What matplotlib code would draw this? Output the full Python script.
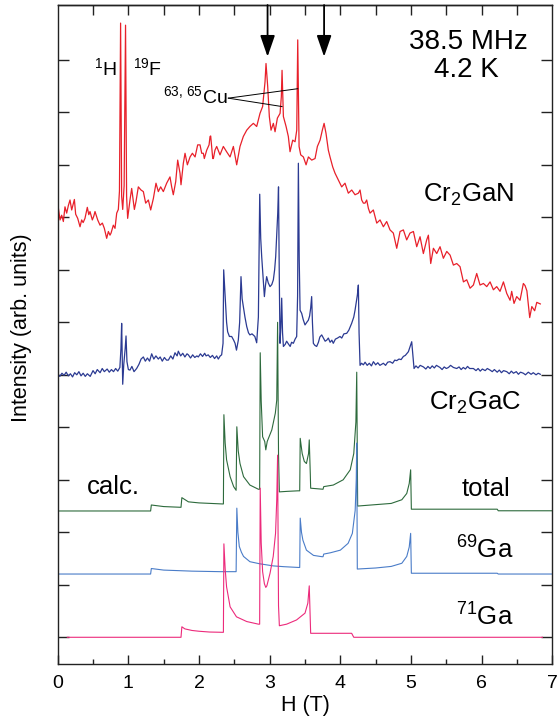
import numpy as np
import matplotlib
matplotlib.use('Agg')
import matplotlib.pyplot as plt

plt.rcParams['font.family'] = ['Liberation Sans', 'DejaVu Sans']
plt.rcParams['mathtext.fontset'] = 'custom'
plt.rcParams['mathtext.rm'] = 'Liberation Sans'
plt.rcParams['mathtext.it'] = 'Liberation Sans:italic'

# values: (H in T, intensity in tick units of the stacked plot)
CR2GAN = [
    (0.00, 8.10), (0.01, 8.17), (0.033, 7.95), (0.056, 8.04), (0.08, 7.92), (0.103, 8.20),
    (0.127, 8.08), (0.15, 8.22), (0.174, 8.33), (0.198, 8.14), (0.236, 8.34), (0.254, 8.06),
    (0.283, 7.98), (0.316, 7.82), (0.339, 7.95), (0.36, 7.90), (0.386, 7.98), (0.419, 8.19),
    (0.44, 8.05), (0.457, 8.11), (0.49, 7.95), (0.51, 8.02), (0.528, 8.11), (0.566, 7.95),
    (0.599, 7.85), (0.632, 7.89), (0.66, 7.79), (0.693, 7.60), (0.717, 7.73), (0.74, 7.66),
    (0.755, 7.70), (0.787, 7.85), (0.811, 7.79), (0.835, 8.08), (0.858, 8.15), (0.874, 8.50),
    (0.89, 11.70), (0.905, 8.40), (0.92, 8.15), (0.94, 8.60), (0.96, 11.66), (0.975, 8.40),
    (0.99, 7.98), (1.023, 8.33), (1.047, 8.55), (1.085, 8.15), (1.108, 8.30), (1.141, 8.58),
    (1.179, 8.52), (1.212, 8.49), (1.245, 8.27), (1.283, 8.33), (1.316, 8.14), (1.354, 8.36),
    (1.391, 8.65), (1.424, 8.49), (1.457, 8.58), (1.495, 8.49), (1.542, 8.65), (1.589, 8.77),
    (1.613, 8.58), (1.636, 8.43), (1.67, 8.68), (1.698, 9.09), (1.731, 8.84), (1.745, 8.62),
    (1.778, 9.03), (1.802, 9.22), (1.835, 9.00), (1.873, 9.15), (1.906, 9.22), (1.944, 9.15),
    (1.981, 9.38), (2.014, 9.38), (2.038, 9.22), (2.061, 9.22), (2.075, 9.12), (2.109, 9.28),
    (2.142, 9.38), (2.156, 9.54), (2.165, 9.55), (2.194, 9.12), (2.203, 9.12), (2.226, 9.28),
    (2.25, 9.35), (2.297, 9.19), (2.344, 9.35), (2.39, 9.25), (2.439, 9.15), (2.486, 9.35),
    (2.533, 9.00), (2.58, 9.35), (2.627, 9.54), (2.675, 9.66), (2.72, 9.73), (2.769, 9.79),
    (2.816, 9.73), (2.863, 9.98), (2.90, 10.11), (2.934, 10.58), (2.948, 10.93), (2.972, 10.49),
    (2.995, 9.92), (3.019, 9.66), (3.052, 9.79), (3.076, 9.63), (3.109, 9.89), (3.147, 9.98),
    (3.165, 10.30), (3.175, 10.80), (3.194, 9.92), (3.232, 9.73), (3.264, 9.54), (3.288, 9.25),
    (3.326, 9.47), (3.359, 9.44), (3.383, 9.66), (3.397, 11.38), (3.416, 9.35), (3.439, 9.19),
    (3.477, 9.15), (3.515, 9.00), (3.548, 9.15), (3.595, 9.09), (3.642, 9.12), (3.675, 9.35),
    (3.713, 9.47), (3.745, 9.66), (3.77, 9.79), (3.797, 9.60), (3.83, 9.28), (3.854, 9.15),
    (3.892, 8.96), (3.925, 8.84), (3.972, 8.71), (4.019, 8.58), (4.066, 8.65), (4.113, 8.46),
    (4.161, 8.52), (4.208, 8.43), (4.255, 8.46), (4.279, 8.52), (4.302, 8.33), (4.326, 8.27),
    (4.349, 8.27), (4.373, 8.33), (4.397, 8.17), (4.42, 8.08), (4.467, 8.14), (4.515, 7.89),
    (4.562, 7.95), (4.609, 7.82), (4.656, 7.92), (4.703, 7.76), (4.75, 7.70), (4.798, 7.41),
    (4.845, 7.73), (4.892, 7.76), (4.939, 7.57), (4.986, 7.70), (5.034, 7.73), (5.081, 7.44),
    (5.128, 7.63), (5.175, 7.31), (5.222, 7.57), (5.246, 7.66), (5.279, 7.12), (5.317, 7.41),
    (5.364, 7.31), (5.411, 7.44), (5.458, 7.22), (5.506, 7.35), (5.553, 7.28), (5.60, 7.09),
    (5.647, 7.12), (5.694, 7.06), (5.742, 6.77), (5.789, 6.81), (5.836, 6.65), (5.883, 6.71),
    (5.93, 6.93), (5.977, 6.71), (6.025, 6.74), (6.072, 6.68), (6.119, 6.77), (6.166, 6.62),
    (6.213, 6.68), (6.26, 6.59), (6.308, 6.77), (6.355, 6.55), (6.402, 6.42), (6.425, 6.59),
    (6.458, 6.36), (6.496, 6.49), (6.543, 6.42), (6.59, 6.74), (6.614, 6.70), (6.64, 6.60),
    (6.68, 6.09), (6.71, 6.30), (6.75, 6.22), (6.78, 6.38), (6.83, 6.35),
]

CR2GAC = [
    (0.00, 5.02), (0.03, 4.97), (0.06, 5.03), (0.09, 4.99), (0.12, 5.05), (0.15, 4.98),
    (0.18, 5.02), (0.21, 4.96), (0.24, 5.04), (0.27, 5.00), (0.30, 5.06), (0.33, 4.98),
    (0.36, 5.03), (0.39, 4.97), (0.42, 5.02), (0.46, 4.97), (0.50, 5.08), (0.53, 5.02),
    (0.56, 5.10), (0.60, 5.04), (0.63, 5.12), (0.66, 5.06), (0.70, 5.11), (0.73, 5.05),
    (0.76, 5.10), (0.79, 5.06), (0.82, 5.12), (0.85, 5.07), (0.88, 5.14), (0.895, 5.50),
    (0.905, 5.98), (0.915, 5.20), (0.92, 4.82), (0.935, 5.20), (0.955, 5.50), (0.967, 5.74),
    (0.98, 5.25), (1.00, 5.10), (1.023, 5.09), (1.05, 5.16), (1.08, 5.06), (1.117, 5.12),
    (1.15, 5.20), (1.18, 5.30), (1.212, 5.34), (1.24, 5.26), (1.27, 5.32), (1.30, 5.26),
    (1.33, 5.40), (1.36, 5.30), (1.39, 5.36), (1.424, 5.30), (1.45, 5.34), (1.48, 5.26),
    (1.51, 5.33), (1.54, 5.28), (1.566, 5.28), (1.60, 5.36), (1.63, 5.30), (1.66, 5.42),
    (1.69, 5.36), (1.707, 5.45), (1.74, 5.36), (1.77, 5.41), (1.80, 5.34), (1.83, 5.40),
    (1.849, 5.38), (1.88, 5.32), (1.91, 5.38), (1.94, 5.33), (1.97, 5.36), (1.99, 5.34),
    (2.02, 5.40), (2.05, 5.35), (2.08, 5.41), (2.10, 5.36), (2.13, 5.38), (2.16, 5.33),
    (2.19, 5.37), (2.22, 5.31), (2.25, 5.36), (2.273, 5.30), (2.30, 5.36), (2.32, 5.38),
    (2.34, 5.60), (2.349, 7.00), (2.365, 6.60), (2.377, 6.30), (2.39, 6.00), (2.405, 5.82),
    (2.43, 5.73), (2.462, 5.73), (2.49, 5.66), (2.51, 5.60), (2.53, 5.47), (2.556, 5.66),
    (2.575, 6.00), (2.594, 6.87), (2.61, 6.45), (2.627, 6.30), (2.65, 6.10), (2.675, 5.92),
    (2.70, 5.80), (2.72, 5.76), (2.75, 5.78), (2.79, 5.73), (2.816, 5.61), (2.84, 6.10),
    (2.859, 8.44), (2.873, 7.60), (2.887, 7.25), (2.905, 6.90), (2.925, 6.49), (2.94, 6.70),
    (2.957, 6.87), (2.98, 6.75), (3.005, 6.68), (3.03, 6.72), (3.052, 6.81), (3.07, 7.00),
    (3.085, 7.25), (3.10, 7.70), (3.114, 8.08), (3.125, 8.58), (3.135, 7.00), (3.146, 5.60),
    (3.158, 5.90), (3.17, 6.46), (3.182, 5.80), (3.194, 5.54), (3.22, 5.58), (3.24, 5.64),
    (3.264, 5.59), (3.29, 5.54), (3.31, 5.62), (3.335, 5.60), (3.36, 5.68), (3.382, 5.73),
    (3.395, 6.50), (3.406, 9.03), (3.418, 7.20), (3.43, 6.23), (3.453, 6.17), (3.475, 6.05),
    (3.50, 5.95), (3.525, 6.00), (3.547, 6.04), (3.565, 6.12), (3.58, 6.27), (3.594, 6.49),
    (3.605, 6.00), (3.618, 5.60), (3.64, 5.56), (3.665, 5.54), (3.69, 5.62), (3.71, 5.72),
    (3.736, 5.76), (3.76, 5.70), (3.785, 5.64), (3.807, 5.66), (3.83, 5.70), (3.855, 5.62),
    (3.88, 5.66), (3.90, 5.60), (3.93, 5.68), (3.96, 5.70), (3.995, 5.73), (4.02, 5.70),
    (4.05, 5.78), (4.09, 5.79), (4.12, 5.85), (4.16, 5.98), (4.19, 6.10), (4.208, 6.23),
    (4.241, 6.52), (4.255, 6.71), (4.265, 5.80), (4.279, 5.18), (4.30, 5.22), (4.326, 5.19),
    (4.35, 5.24), (4.38, 5.18), (4.41, 5.22), (4.44, 5.17), (4.468, 5.25), (4.50, 5.19),
    (4.53, 5.23), (4.56, 5.18), (4.609, 5.22), (4.64, 5.18), (4.67, 5.24), (4.703, 5.25),
    (4.74, 5.22), (4.77, 5.28), (4.798, 5.27), (4.83, 5.30), (4.86, 5.29), (4.892, 5.35),
    (4.92, 5.37), (4.963, 5.44), (4.99, 5.55), (5.01, 5.63), (5.025, 5.40), (5.043, 5.12),
    (5.07, 5.17), (5.10, 5.13), (5.13, 5.18), (5.176, 5.15), (5.21, 5.11), (5.24, 5.16),
    (5.27, 5.12), (5.30, 5.17), (5.33, 5.13), (5.36, 5.18), (5.41, 5.14), (5.44, 5.10),
    (5.47, 5.15), (5.50, 5.12), (5.53, 5.14), (5.56, 5.18), (5.60, 5.14), (5.647, 5.12),
    (5.68, 5.15), (5.71, 5.10), (5.74, 5.14), (5.77, 5.11), (5.80, 5.16), (5.83, 5.12),
    (5.883, 5.12), (5.92, 5.08), (5.95, 5.12), (5.98, 5.07), (6.01, 5.11), (6.05, 5.08),
    (6.08, 5.12), (6.119, 5.09), (6.15, 5.06), (6.18, 5.10), (6.22, 5.05), (6.25, 5.09),
    (6.28, 5.04), (6.31, 5.08), (6.355, 5.06), (6.39, 5.02), (6.42, 5.07), (6.45, 5.03),
    (6.49, 5.06), (6.52, 5.01), (6.55, 5.05), (6.59, 5.03), (6.62, 5.00), (6.66, 5.05),
    (6.70, 5.01), (6.73, 5.04), (6.77, 5.00), (6.80, 5.03), (6.83, 5.01),
]

CALC_TOTAL = [
    (0.0, 2.406), (1.315, 2.406), (1.325, 2.52), (1.5, 2.49), (1.745, 2.476), (1.757, 2.66),
    (1.85, 2.58), (2.0, 2.56), (2.33, 2.54), (2.345, 2.54), (2.352, 4.24), (2.37, 3.70),
    (2.39, 3.38), (2.44, 3.06), (2.49, 2.87), (2.525, 2.80), (2.535, 4.01), (2.555, 3.55),
    (2.58, 3.31), (2.63, 3.06), (2.72, 2.90), (2.84, 2.82), (2.858, 2.82), (2.866, 5.42),
    (2.88, 4.50), (2.90, 3.82), (2.93, 3.73), (2.945, 3.57), (2.965, 3.73), (3.03, 3.95),
    (3.08, 4.27), (3.10, 4.52), (3.112, 6.00), (3.125, 3.50), (3.137, 2.77), (3.25, 2.78),
    (3.40, 2.79), (3.425, 2.79), (3.432, 3.79), (3.46, 3.50), (3.49, 3.35), (3.52, 3.31),
    (3.55, 3.50), (3.56, 3.76), (3.575, 3.10), (3.58, 2.84), (3.755, 2.82), (3.765, 2.87),
    (3.90, 2.90), (4.04, 3.00), (4.14, 3.19), (4.19, 3.50), (4.22, 4.10), (4.232, 5.05),
    (4.245, 2.50), (4.72, 2.55), (4.87, 2.62), (4.94, 2.74), (4.975, 2.93), (4.995, 3.19),
    (5.005, 2.44), (6.22, 2.44), (6.235, 2.41), (7.0, 2.41),
]

CALC_GA69 = [
    (0.0, 1.205), (1.315, 1.205), (1.325, 1.31), (1.5, 1.28), (1.9, 1.26), (2.3, 1.25),
    (2.525, 1.25), (2.535, 2.46), (2.55, 2.00), (2.57, 1.73), (2.60, 1.62), (2.63, 1.54),
    (2.72, 1.44), (2.86, 1.40), (3.05, 1.36), (3.2, 1.345), (3.41, 1.33), (3.425, 1.33),
    (3.432, 2.27), (3.45, 2.00), (3.47, 1.85), (3.52, 1.66), (3.62, 1.56), (3.74, 1.535),
    (3.755, 1.535), (3.765, 1.585), (3.86, 1.61), (4.0, 1.66), (4.11, 1.79), (4.17, 1.98),
    (4.21, 2.42), (4.225, 3.00), (4.232, 3.70), (4.24, 1.30), (4.50, 1.32), (4.72, 1.35),
    (4.87, 1.41), (4.94, 1.54), (4.975, 1.72), (4.995, 1.98), (5.005, 1.22), (6.22, 1.22),
    (6.235, 1.205), (7.0, 1.205),
]

CALC_GA71 = [
    (0.136, 0.0), (1.745, 0.0), (1.757, 0.20), (1.80, 0.16), (1.90, 0.13), (2.00, 0.115),
    (2.15, 0.10), (2.33, 0.095), (2.345, 0.095), (2.352, 1.78), (2.37, 1.30), (2.39, 0.96),
    (2.44, 0.58), (2.53, 0.39), (2.675, 0.30), (2.84, 0.25), (2.858, 0.25), (2.866, 2.84),
    (2.88, 1.80), (2.90, 1.25), (2.925, 1.02), (2.945, 0.95), (2.96, 0.98), (3.005, 1.22),
    (3.05, 1.54), (3.083, 1.98), (3.10, 2.62), (3.112, 3.47), (3.125, 0.60), (3.137, 0.22),
    (3.24, 0.25), (3.38, 0.33), (3.50, 0.46), (3.54, 0.65), (3.56, 0.98), (3.575, 0.30),
    (3.58, 0.076), (4.16, 0.076), (4.19, 0.0), (6.86, 0.0),
]

ARROW_FIELDS = [2.97, 3.77]

SERIES_STYLE = [
    (CR2GAN, '#e8202a', 0.9),
    (CR2GAC, '#2b3a92', 0.9),
    (CALC_TOTAL, '#2d6a3c', 0.8),
    (CALC_GA69, '#4a7cc8', 0.8),
    (CALC_GA71, '#ec2a7b', 0.8),
]

fig = plt.figure(figsize=(5.57, 7.18), dpi=100)
ax = fig.add_axes([0.1036, 0.0752, 0.888, 0.9178])

for points, colour, width in SERIES_STYLE:
    h, inten = np.array(points).T
    ax.plot(h, inten, color=colour, lw=width)

ax.set_xlim(0, 7)
ax.set_ylim(-0.509, 12.044)

for spine in ax.spines.values():
    spine.set_linewidth(1.0)
    spine.set_color('#222222')

ax.set_xticks(np.arange(0, 8, 1))
ax.set_xticks(np.arange(0.5, 7, 1), minor=True)
ax.set_yticks(np.arange(0, 12, 1))
ax.tick_params(axis='x', which='major', direction='in', length=6.5, width=1.0,
               labelsize=14, pad=8, color='#222222')
ax.tick_params(axis='x', which='minor', direction='in', length=3.6, width=1.0,
               color='#222222')
ax.tick_params(axis='y', direction='in', length=7.7, width=1.0, left=True, right=True,
               labelleft=False, color='#222222')

top = ax.secondary_xaxis('top')
top.set_xticks(np.arange(0.5, 7, 0.5))
top.set_xticklabels([])
top.tick_params(direction='in', length=7.2, width=1.0, color='#222222')
top.spines['top'].set_linewidth(1.0)

ax.set_xlabel('H (T)', fontsize=15.5)
ax.xaxis.set_label_coords(0.5, -0.047)
ax.set_ylabel('Intensity (arb. units)', fontsize=15.5)
ax.yaxis.set_label_coords(-0.052, 0.51)

for field in ARROW_FIELDS:
    ax.annotate('', xy=(field, 11.06), xytext=(field, 12.044),
                arrowprops=dict(arrowstyle='-|>,head_length=1.3,head_width=0.45',
                                color='black', lw=1.3, shrinkA=0, shrinkB=0,
                                mutation_scale=10))

ax.text(5.81, 11.34, '38.5 MHz', fontsize=20, ha='center', va='center')
ax.text(5.78, 10.81, '4.2 K', fontsize=20, ha='center', va='center')
ax.text(5.175, 8.30, r'Cr$\mathregular{_2}$GaN', fontsize=18.5, ha='left', va='baseline')
ax.text(5.25, 4.34, r'Cr$\mathregular{_2}$GaC', fontsize=18.5, ha='left', va='baseline')
ax.text(5.71, 2.69, 'total', fontsize=18.5, ha='left', va='baseline')
ax.text(5.64, 1.49, r'$\mathregular{^{69}}$Ga', fontsize=18.5, ha='left', va='baseline')
ax.text(5.64, 0.22, r'$\mathregular{^{71}}$Ga', fontsize=18.5, ha='left', va='baseline')
ax.text(0.41, 2.73, 'calc.', fontsize=18.5, ha='left', va='baseline')

ax.text(0.52, 10.71, r'$\mathregular{^{1}}$H', fontsize=14, ha='left', va='baseline')
ax.text(1.06, 10.71, r'$\mathregular{^{19}}$F', fontsize=14, ha='left', va='baseline')
ax.text(2.40, 10.18, r'$\mathregular{^{63,\,65}}$Cu', fontsize=14, ha='right', va='baseline')
ax.plot([2.415, 3.397], [10.27, 10.45], color='black', lw=0.7)
ax.plot([2.415, 3.175], [10.27, 10.11], color='black', lw=0.7)

fig.savefig('out.png', dpi=100)
